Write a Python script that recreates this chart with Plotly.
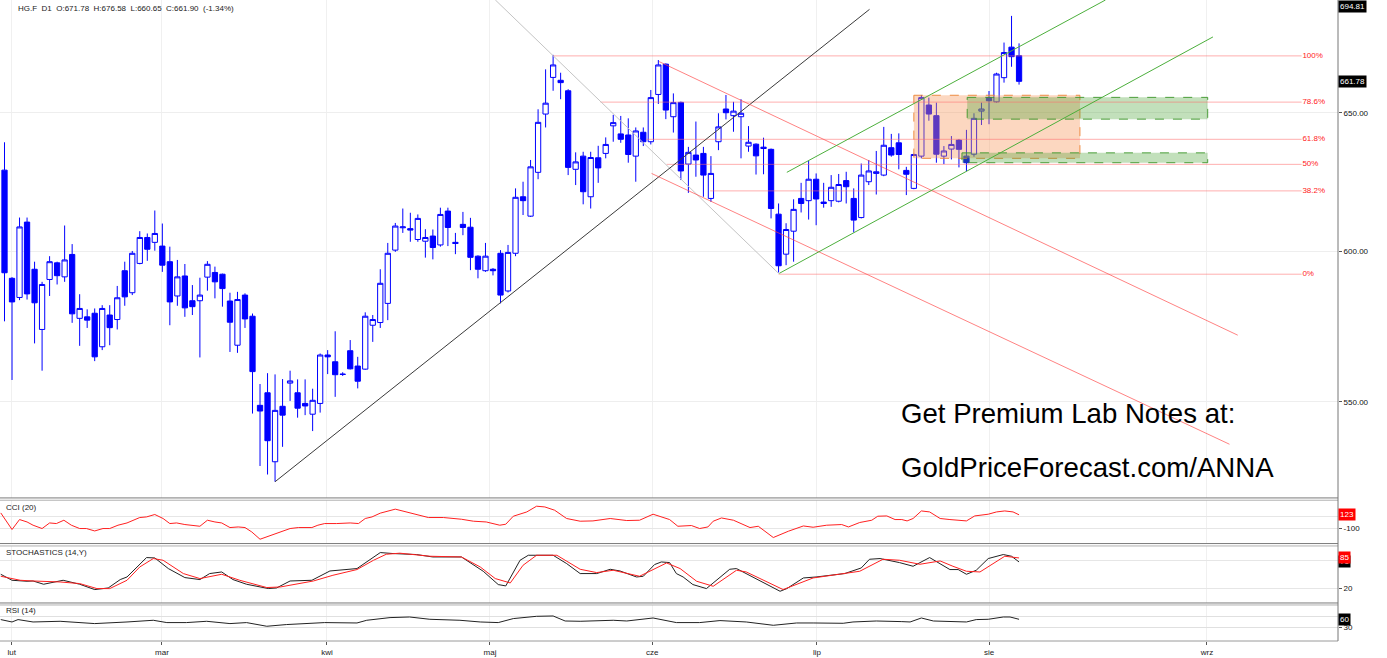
import math
import plotly.graph_objects as go

# ---------------- data ----------------
bar_index = list(range(136))
open_ = [628.8, 590.7, 584.2, 610.2, 593.8, 573.5, 590.3, 596.0, 591.2, 598.9,
         577.2, 577.7, 578.9, 567.8, 578.3, 576.8, 593.3, 585.8, 595.8, 604.8,
         603.1, 601.8, 596.4, 584.7, 591.5, 583.1, 583.1, 591.1, 592.7, 592.1,
         583.0, 568.3, 585.0, 577.9, 548.9, 552.9, 531.3, 548.6, 556.0, 552.9,
         549.5, 546.1, 549.5, 565.1, 562.9, 558.9, 566.5, 561.5, 560.5, 574.9,
         575.8, 582.2, 600.4, 608.2, 607.9, 604.1, 603.5, 605.3, 602.2, 614.1,
         603.1, 609.4, 608.4, 598.3, 593.3, 593.8, 599.3, 586.4, 599.3, 619.2,
         612.3, 628.0, 649.5, 663.4, 662.3, 658.3, 629.1, 633.9, 619.2, 633.3,
         634.9, 645.1, 642.1, 641.7, 633.9, 642.7, 639.2, 656.9, 668.5, 648.5,
         653.9, 631.0, 634.3, 634.9, 618.6, 639.2, 651.4, 648.9, 648.5, 637.6,
         638.3, 637.2, 636.4, 613.0, 599.0, 607.0, 618.6, 617.8, 625.5, 617.3,
         617.8, 617.6, 625.0, 618.6, 611.8, 624.6, 627.6, 627.0, 637.0, 638.8,
         628.7, 622.2, 633.9, 652.9, 648.9, 633.9, 636.5, 639.8, 633.9, 634.6,
         650.6, 655.7, 654.1, 663.3, 675.1, 671.78]
high = [639.0, 591.1, 611.8, 611.8, 596.4, 589.5, 598.3, 596.4, 609.0, 602.5,
        585.3, 580.2, 580.5, 581.6, 581.6, 588.1, 596.4, 600.1, 607.0, 606.2,
        614.3, 609.7, 601.6, 597.0, 595.6, 588.4, 590.9, 596.6, 594.7, 592.3,
        585.8, 586.1, 585.6, 578.8, 555.7, 559.2, 558.8, 557.3, 560.0, 557.2,
        557.2, 554.2, 565.6, 566.7, 572.9, 559.5, 570.0, 564.5, 579.2, 578.3,
        593.8, 602.9, 609.9, 615.0, 613.5, 612.9, 607.7, 607.6, 615.3, 615.3,
        606.4, 613.8, 611.7, 598.6, 602.9, 594.2, 600.4, 602.2, 622.2, 624.6,
        632.5, 651.3, 666.5, 672.1, 665.2, 658.9, 635.3, 635.5, 635.5, 637.7,
        640.8, 649.2, 648.8, 647.9, 644.5, 644.5, 658.6, 670.1, 668.8, 657.3,
        654.2, 637.3, 646.7, 637.3, 633.9, 649.8, 656.7, 654.1, 655.1, 645.0,
        638.6, 640.7, 636.7, 616.8, 609.8, 618.3, 624.2, 632.2, 627.6, 624.2,
        627.0, 627.4, 628.2, 622.2, 631.2, 632.5, 635.8, 644.7, 642.1, 642.3,
        630.0, 634.8, 656.7, 655.7, 653.8, 637.6, 641.3, 640.2, 643.6, 649.8,
        653.8, 658.2, 665.2, 676.9, 687.4, 676.58]
low = [576.2, 557.0, 583.3, 583.5, 568.9, 560.0, 584.7, 588.6, 589.5, 575.7,
       568.1, 574.0, 563.1, 566.7, 568.3, 573.5, 581.4, 585.0, 595.5, 596.7,
       600.2, 592.9, 574.9, 581.4, 577.7, 578.3, 564.3, 586.5, 583.9, 581.1,
       566.1, 565.8, 574.0, 546.3, 530.0, 527.4, 525.2, 535.9, 550.3, 545.0,
       545.8, 540.8, 546.6, 558.9, 551.6, 558.3, 560.4, 554.3, 560.3, 569.4,
       574.0, 576.6, 599.8, 606.4, 603.3, 603.3, 597.8, 597.2, 601.6, 601.8,
       599.0, 605.6, 593.5, 590.7, 592.9, 591.7, 582.2, 585.9, 598.3, 612.7,
       612.0, 625.5, 644.5, 658.3, 655.1, 627.0, 623.4, 616.5, 615.0, 624.2,
       633.1, 639.2, 638.8, 631.5, 624.6, 637.6, 638.2, 653.3, 647.6, 642.6,
       625.2, 620.6, 626.4, 619.2, 617.4, 636.1, 647.5, 642.9, 633.1, 635.5,
       627.2, 627.3, 611.5, 592.7, 595.2, 596.4, 613.6, 611.1, 609.1, 615.3,
       615.6, 617.2, 616.8, 606.6, 611.5, 623.4, 620.0, 626.6, 633.7, 629.1,
       619.8, 621.9, 633.1, 647.0, 631.5, 631.0, 632.7, 629.8, 628.4, 633.7,
       645.4, 645.7, 653.8, 661.4, 667.5, 660.65]
close = [592.6, 582.7, 608.5, 585.4, 582.4, 588.6, 596.4, 591.6, 597.0, 578.7,
         580.5, 576.6, 564.5, 580.5, 574.1, 584.1, 584.4, 599.3, 604.8, 600.7,
         606.2, 595.2, 582.7, 591.2, 580.7, 581.1, 585.0, 595.5, 589.5, 587.2,
         575.9, 583.5, 577.0, 559.7, 547.1, 537.8, 547.3, 545.8, 556.7, 548.0,
         548.7, 550.5, 565.1, 564.5, 558.7, 558.8, 560.6, 556.6, 577.9, 576.8,
         589.0, 599.3, 608.8, 608.5, 607.4, 611.5, 604.8, 601.3, 612.9, 608.3,
         602.7, 608.3, 597.9, 593.8, 598.3, 593.3, 585.0, 599.6, 619.0, 617.8,
         630.0, 646.4, 653.6, 668.2, 661.4, 629.8, 631.8, 621.0, 633.4, 629.6,
         638.2, 646.3, 640.1, 634.5, 643.2, 639.2, 655.7, 668.2, 651.0, 653.8,
         628.5, 635.3, 632.5, 627.0, 627.6, 644.7, 650.0, 650.6, 649.8, 639.0,
         634.0, 636.7, 615.0, 595.0, 607.6, 614.7, 616.8, 625.5, 618.4, 616.8,
         622.6, 623.6, 622.8, 610.9, 627.0, 628.5, 628.2, 637.9, 634.3, 634.5,
         627.3, 634.5, 655.7, 649.5, 634.6, 635.8, 638.2, 636.4, 631.5, 647.9,
         651.4, 654.5, 664.7, 673.0, 671.4, 661.90]

month_pos = [0.96, 20.95, 42.9, 64.6, 86.2, 108.1, 131.0, 160.0]
month_labels = ["lut", "mar", "kwi", "maj", "cze", "lip", "sie", "wrz"]

cci_x = [-0.5, 1.0, 2.0, 3.0, 3.8, 5.0, 6.0, 6.9, 7.9, 8.9, 10.0, 10.9, 12.0, 13.1, 14.0,
         15.1, 16.3, 18.0, 18.9, 20.0, 21.1, 22.0, 22.9, 24.0, 26.0, 27.0, 28.0, 28.9,
         30.0, 31.1, 32.0, 32.9, 34.0, 34.9, 36.0, 37.1, 38.0, 39.1, 40.9, 41.7, 42.6,
         44.2, 46.0, 47.1, 48.0, 48.9, 50.0, 52.0, 54.2, 56.4, 58.4, 60.8, 62.4, 64.1,
         65.9, 66.7, 67.7, 69.5, 70.8, 71.9, 73.2, 74.8, 76.6, 78.3, 80.6, 82.8, 84.5,
         86.3, 88.5, 89.6, 91.4, 92.5, 93.6, 94.3, 95.4, 97.0, 99.2, 100.3, 102.3, 104.3,
         106.3, 107.6, 109.4, 111.4, 112.3, 113.8, 115.4, 116.2, 117.4, 118.5, 119.4,
         120.1, 120.9, 122.0, 123.1, 124.5, 125.8, 126.9, 128.0, 129.1, 130.9, 132.0,
         133.1, 134.2, 135.0]
cci_v = [154, -116, 46, 7, -46, -100, -9, -19, 35, -46, -100, -100, -139, -100, -100,
         -46, -9, 79, 89, 128, 63, -19, -9, -35, -63, 35, 7, -9,
         -84, -74, -84, -155, -274, -237, -181, -139, -100, -84, -84, -46, -19,
         -19, -9, -19, 63, 89, 150, 215, 144, 79, 79, 51, 19, 7,
         -46, -30, 100, 170, 263, 251, 198, 63, 19, 24, 63, 30, 35,
         133, 46, -63, -51, -100, -74, 19, 72, 35, -84, -63, -246, -144,
         -58, -79, -46, -35, -74, -2, 35, 100, 105, 46, 46,
         24, 63, 186, 170, 63, 46, 35, 24, 105, 133, 170,
         186, 170, 123]

stk_x = [-0.5, 1.0, 3.0, 3.8, 5.2, 7.8, 10.0, 12.0, 13.8, 15.4, 16.3, 18.9, 20.0, 21.8,
         24.0, 26.0, 27.3, 28.9, 30.4, 32.2, 35.1, 36.2, 38.0, 40.9, 43.3, 46.9, 50.0,
         51.7, 54.8, 57.0, 60.8, 63.7, 65.7, 66.7, 68.6, 69.7, 73.0, 74.8, 76.6, 78.8,
         80.6, 81.9, 84.1, 85.0, 86.5, 87.4, 88.5, 89.4, 90.3, 91.6, 93.4, 96.5, 97.4,
         98.7, 100.9, 103.2, 104.1, 106.3, 108.0, 109.6, 111.8, 114.0, 115.1, 116.5,
         117.8, 119.1, 120.9, 123.1, 125.8, 126.9, 128.0, 129.3, 130.9, 132.9, 134.0, 135.0]
stk_k = [50.3, 37.6, 35.5, 36.1, 29.2, 37.6, 29.2, 17.9, 21.3, 39.1, 44.6, 85.7, 84.9, 62.4,
         43.3, 39.1, 51.8, 55.2, 39.1, 29.2, 20.1, 21.3, 36.1, 37.6, 57.3, 62.4, 96.3,
         94.2, 92.1, 87.0, 87.0, 56.7, 28.5, 25.6, 80.0, 90.6, 90.6, 73.0, 51.8, 51.8,
         60.9, 57.3, 44.6, 46.1, 70.9, 76.4, 75.1, 51.8, 44.6, 28.5, 20.0, 60.9, 62.4,
         51.8, 32.8, 14.3, 20.0, 42.5, 44.6, 48.2, 51.8, 63.7, 82.1, 83.6,
         80.0, 75.0, 67.3, 85.7, 60.3, 60.3, 50.3, 58.8, 83.6, 92.1, 88.5, 76.4]

std_x = [-0.5, 2.1, 3.8, 7.4, 10.0, 12.3, 14.0, 16.3, 18.0, 19.8, 21.1, 23.8, 26.0, 28.9,
         31.3, 34.9, 36.7, 41.1, 43.7, 46.9, 49.1, 50.8, 52.6, 56.6, 60.8, 63.3, 65.3,
         67.3, 69.0, 70.8, 73.5, 76.6, 78.8, 81.0, 84.5, 88.1, 89.9, 92.1, 94.3, 97.4,
         98.7, 103.6, 107.6, 111.1, 113.8, 116.9, 119.1, 121.8, 124.5, 126.2, 128.0,
         129.8, 131.5, 133.1, 135.0]
std_d = [46.1, 37.6, 36.1, 34.0, 30.6, 20.0, 20.0, 37.6, 65.8, 83.6, 80.0, 51.8, 41.2, 50.3,
         37.6, 22.2, 23.4, 36.1, 48.2, 60.3, 80.0, 92.7, 95.0, 88.5, 87.0, 65.8, 41.2,
         31.9, 69.4, 90.6, 90.6, 60.9, 53.9, 58.8, 46.1, 74.3, 62.4, 35.5, 24.9, 58.8,
         55.2, 17.9, 42.5, 49.7, 56.7, 82.1, 80.0, 71.5, 78.5, 67.3, 56.7,
         55.2, 73.0, 88.5, 84.9]

rsi_x = [-0.5, 1.0, 1.8, 3.8, 7.4, 9.6, 12.0, 16.3, 19.8, 21.6, 24.2, 26.9, 30.0, 32.2,
         34.9, 37.5, 41.1, 42.6, 46.9, 48.2, 51.3, 53.9, 56.6, 60.6, 63.3, 65.7, 67.7,
         70.8, 73.0, 74.6, 76.6, 81.0, 82.8, 86.3, 89.4, 92.5, 95.2, 97.4, 98.7, 102.3,
         105.4, 107.6, 111.6, 112.9, 116.0, 119.4, 120.5, 122.0, 123.6, 128.0, 129.3,
         130.9, 132.9, 133.8, 135.0]
rsi_v = [60.2, 51.2, 60.2, 51.2, 53.8, 48.9, 45.1, 51.2, 57.6, 48.9, 48.9, 53.8, 45.1, 48.9,
         35.0, 41.4, 45.1, 48.9, 47.4, 57.6, 67.7, 70.0, 61.3, 57.6, 51.2, 48.9, 64.0,
         72.6, 73.8, 54.9, 53.8, 57.6, 54.9, 66.2, 48.9, 48.9, 56.4, 53.8, 51.2, 38.7,
         47.4, 47.4, 46.2, 51.2, 54.9, 52.5, 51.2, 66.2, 54.9, 51.2, 60.2,
         61.3, 70.0, 70.0, 61.3]

# Fibonacci retracement drawn on the chart
fib_labels = ["100%", "78.6%", "61.8%", "50%", "38.2%", "0%"]
fib_levels = [671.7, 654.0, 640.1, 630.9, 621.3, 592.1]
fib_start = [73.0, 79.3, 85.4, 88.1, 93.9, 103.0]
fib_end = 172.6

# hand-drawn trend lines: (x0, y0, x1, y1) in bar index / price
black_line = [36.0, 525.2, 115.1, 690.0]
gray_line = [65.3, 693.8, 103.0, 592.4]
red_lines = [[87.1, 669.5, 164.1, 571.6], [86.1, 627.6, 163.0, 536.7]]
green_lines = [[104.1, 628.0, 146.5, 693.75], [103.1, 592.4, 160.8, 679.1]]

# zones: (x0, x1, price_top, price_bottom)
orange_zone = [121.0, 143.1, 656.6, 633.1]
green_zones = [[128.1, 160.1, 655.8, 647.6], [127.4, 160.1, 635.1, 631.5]]

# ---------------- figure ----------------
W, H = 1387, 658
PLOT_H = 640.7


def ypap(p):
    return (PLOT_H - p) / PLOT_H


fig = go.Figure()

fig.add_trace(go.Candlestick(
    x=bar_index, open=open_, high=high, low=low, close=close,
    xaxis="x", yaxis="y", whiskerwidth=0,
    increasing=dict(line=dict(color="#0000ff", width=1), fillcolor="#ffffff"),
    decreasing=dict(line=dict(color="#0000ff", width=1), fillcolor="#0000ff"),
    hoverinfo="skip", showlegend=False))


def rect_trace(x0, x1, ytop, ybot, fill, line):
    return go.Scatter(x=[x0, x1, x1, x0, x0], y=[ytop, ytop, ybot, ybot, ytop],
                      mode="lines", fill="toself", fillcolor=fill,
                      line=dict(color=line, width=1, dash="dash"),
                      xaxis="x", yaxis="y", hoverinfo="skip", showlegend=False)


fig.add_trace(rect_trace(orange_zone[0], orange_zone[1], orange_zone[2], orange_zone[3],
                         "rgba(247,150,90,0.38)", "rgba(235,130,50,0.9)"))
for gz in green_zones:
    fig.add_trace(rect_trace(gz[0], gz[1], gz[2], gz[3],
                             "rgba(70,160,50,0.33)", "rgba(60,150,40,0.9)"))


def seg(l, color, width=1):
    return go.Scatter(x=[l[0], l[2]], y=[l[1], l[3]], mode="lines",
                      line=dict(color=color, width=width), xaxis="x", yaxis="y",
                      hoverinfo="skip", showlegend=False)


for lvl, xs in zip(fib_levels, fib_start):
    fig.add_trace(seg([xs, lvl, fib_end, lvl], "rgba(255,110,110,0.55)"))
fig.add_trace(go.Scatter(x=[fib_end + 0.1] * len(fib_levels), y=fib_levels, mode="text",
                         text=fib_labels, textposition="middle right",
                         textfont=dict(color="#ff1a1a", size=8, family="Liberation Sans, Arial"),
                         xaxis="x", yaxis="y", hoverinfo="skip", showlegend=False))

fig.add_trace(seg(gray_line, "#c4c4c4"))
fig.add_trace(seg(black_line, "#3a3a3a"))
for rl in red_lines:
    fig.add_trace(seg(rl, "rgba(255,70,70,0.85)", 0.8))
for gl in green_lines:
    fig.add_trace(seg(gl, "#4caf3c"))

# indicators
fig.add_trace(go.Scatter(x=cci_x, y=cci_v, mode="lines", line=dict(color="#ff2020", width=1),
                         xaxis="x2", yaxis="y2", hoverinfo="skip", showlegend=False))
fig.add_trace(go.Scatter(x=stk_x, y=stk_k, mode="lines", line=dict(color="#222222", width=1),
                         xaxis="x3", yaxis="y3", hoverinfo="skip", showlegend=False))
fig.add_trace(go.Scatter(x=std_x, y=std_d, mode="lines", line=dict(color="#ff2020", width=1),
                         xaxis="x3", yaxis="y3", hoverinfo="skip", showlegend=False))
fig.add_trace(go.Scatter(x=rsi_x, y=rsi_v, mode="lines", line=dict(color="#222222", width=1),
                         xaxis="x4", yaxis="y4", hoverinfo="skip", showlegend=False))

XR = [-0.6, 177.44]
font_main = "Liberation Sans, Arial, sans-serif"
xcommon = dict(range=XR, tickvals=month_pos, ticktext=month_labels, showgrid=True,
               gridcolor="#f0f0f0", gridwidth=1, zeroline=False, showline=False,
               fixedrange=True)
ycommon = dict(side="right", ticks="outside", ticklen=3, tickcolor="#555",
               tickfont=dict(size=8, color="#111", family=font_main), zeroline=False,
               showline=False, showgrid=True, fixedrange=True)

fig.update_layout(
    width=W, height=H, margin=dict(l=0, r=49, t=0, b=17),
    paper_bgcolor="white", plot_bgcolor="white", showlegend=False,
    font=dict(family=font_main, size=8, color="#222"),
    boxgap=0.3, boxgroupgap=0.0,
    xaxis=dict(anchor="y", showticklabels=False, ticks="", rangeslider=dict(visible=False), **xcommon),
    xaxis2=dict(anchor="y2", matches="x", showticklabels=False, ticks="", **xcommon),
    xaxis3=dict(anchor="y3", matches="x", showticklabels=False, ticks="", **xcommon),
    xaxis4=dict(anchor="y4", matches="x", showticklabels=True, ticks="outside", ticklen=3,
                tickcolor="#555", tickfont=dict(size=8, color="#222", family=font_main), **xcommon),
    yaxis=dict(anchor="x", domain=[ypap(497.7), 1.0], type="log",
               range=[2.71626, 2.84120], tickvals=[550, 600, 650],
               ticktext=["550.00", "600.00", "650.00"], gridcolor="#eeeeee", **ycommon),
    yaxis2=dict(anchor="x2", domain=[ypap(543.3), ypap(500)], range=[-344, 360],
                tickvals=[-100, 100], ticktext=["-100", ""], gridcolor="#e6e6e6", **ycommon),
    yaxis3=dict(anchor="x3", domain=[ypap(602.7), ypap(545.7)], range=[-10.5, 110.3],
                tickvals=[20, 80], ticktext=["20", ""], gridcolor="#e6e6e6", **ycommon),
    yaxis4=dict(anchor="x4", domain=[0.0, ypap(604.7)], range=[-20.6, 115.3],
                tickvals=[30, 70], ticktext=["30", ""], gridcolor="#e0e0e0", **ycommon),
)

shapes = []
for p, c in [(497.7, "#7a7a7a"), (500.0, "#b0b0b0"), (543.3, "#7a7a7a"), (545.7, "#b0b0b0"),
             (602.7, "#7a7a7a"), (604.7, "#b0b0b0"), (640.7, "#9a9a9a")]:
    shapes.append(dict(type="line", xref="paper", yref="paper", x0=0, x1=1,
                       y0=ypap(p), y1=ypap(p), line=dict(color=c, width=1)))
shapes.append(dict(type="line", xref="paper", yref="paper", x0=1, x1=1, y0=0, y1=1,
                   line=dict(color="#777777", width=1)))
fig.update_layout(shapes=shapes)

ann = []
ann.append(dict(xref="paper", yref="paper", x=16 / 1338, y=ypap(8), xanchor="left",
                yanchor="middle", showarrow=False,
                text="HG.F  D1  O:671.78  H:676.58  L:660.65  C:661.90  (-1.34%)",
                font=dict(size=8, color="#222", family=font_main)))
for txt, p in [("CCI (20)", 507), ("STOCHASTICS (14,Y)", 552.5), ("RSI (14)", 610.5)]:
    ann.append(dict(xref="paper", yref="paper", x=4 / 1338, y=ypap(p), xanchor="left",
                    yanchor="middle", showarrow=False, text=txt,
                    font=dict(size=8, color="#222", family=font_main)))


def value_box(txt, yref, y, bg, yanchor="middle"):
    return dict(xref="paper", yref=yref, x=1.0, y=y, xanchor="left", yanchor=yanchor,
                showarrow=False, text=txt, bgcolor=bg, borderpad=1,
                font=dict(size=8, color="white", family=font_main))


ann.append(value_box("694.81", "paper", 1.0, "#000000", "top"))
ann.append(value_box("661.78", "y", math.log10(661.78), "#000000"))
ann.append(value_box("123", "y2", 123, "#ff0000"))
ann.append(value_box("76", "y3", 76.4, "#000000"))
ann.append(value_box("85", "y3", 84.9, "#ff0000"))
ann.append(value_box("60", "y4", 61.3, "#000000"))

ann.append(dict(xref="paper", yref="paper", x=899 / 1338, y=ypap(413), xanchor="left",
                yanchor="middle", showarrow=False, text="Get Premium Lab Notes at:",
                font=dict(size=27.6, color="#000", family=font_main)))
ann.append(dict(xref="paper", yref="paper", x=899 / 1338, y=ypap(467), xanchor="left",
                yanchor="middle", showarrow=False, text="GoldPriceForecast.com/ANNA",
                font=dict(size=27.6, color="#000", family=font_main)))
fig.update_layout(annotations=ann)

fig.write_html("out.html", config={"displayModeBar": False},
               post_script="document.body.style.margin='0px';document.body.style.padding='0px';")
